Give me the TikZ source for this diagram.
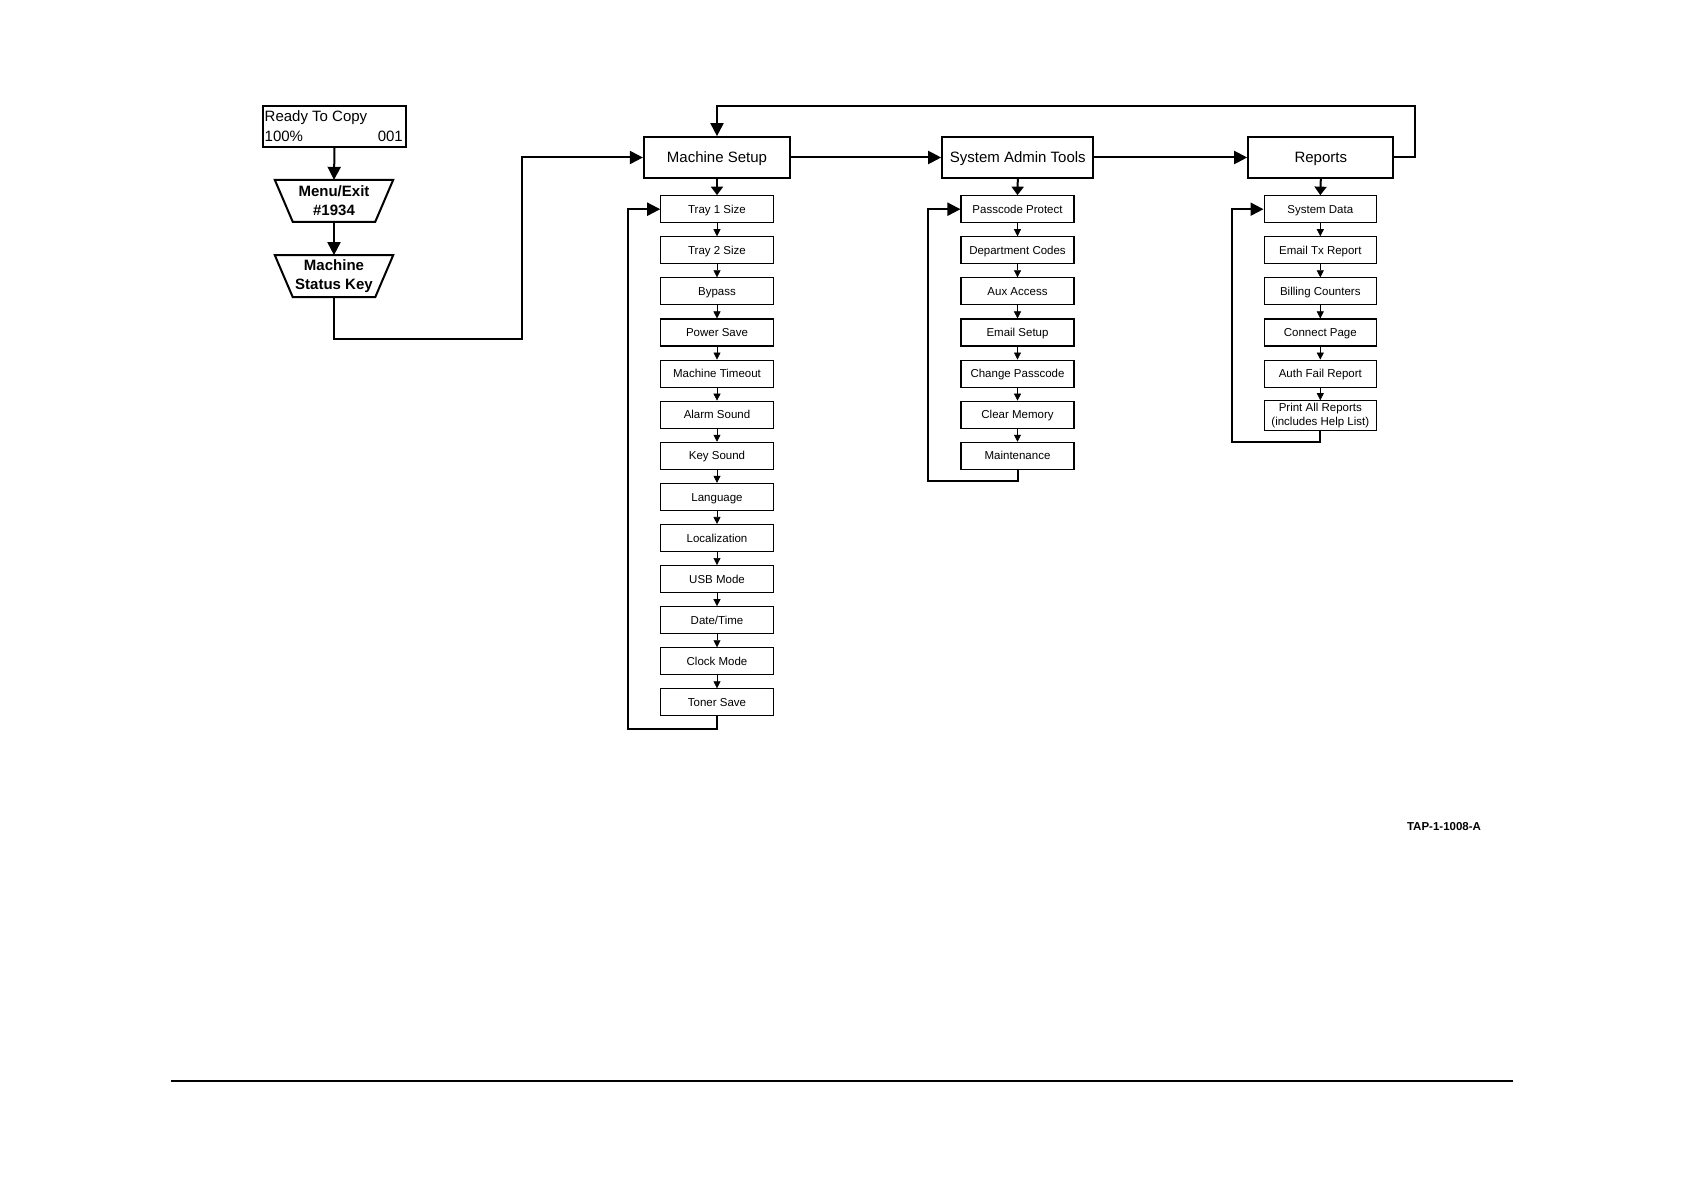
\documentclass[tikz,border=0pt]{standalone}
\usepackage{fontspec}
\setmainfont{Liberation Sans}
\usetikzlibrary{arrows.meta,calc}
\begin{document}
\begin{tikzpicture}[x=1pt,y=-1pt,
  mainbox/.style={draw,line width=2.2pt,minimum height=40.5pt,inner sep=0pt,text height=10.7pt,text depth=0pt,font=\fontsize{15}{18}\selectfont},
  itembase/.style={draw,line width=1.1pt,minimum width=112.5pt,minimum height=27pt,inner sep=0pt,align=center,font=\fontsize{11.5}{13.5}\selectfont},
  item/.style={itembase,text height=8.3pt,text depth=0pt},
  trap/.style={minimum width=82pt,minimum height=41.7pt,inner sep=0pt,align=center,font=\fontsize{15}{19}\selectfont\bfseries},
  trapline/.style={line width=2pt,line join=miter},
  bigarrow/.style={line width=2pt,-{Triangle[length=13pt,width=13pt]}},
  downarrow/.style={line width=2pt,-{Triangle[length=8.5pt,width=12pt]}},
  smallarrow/.style={line width=0.6pt,-{Triangle[length=7pt,width=7pt]}},
  plainline/.style={line width=2pt}]
\useasboundingbox (0,0) rectangle (1684,1190);

% start box
\node[draw,line width=1.8pt,minimum width=143pt,minimum height=41pt,inner sep=0pt] (ready) at (334.5,126.5) {};
\node[anchor=west,inner sep=0pt,font=\fontsize{15}{18}\selectfont] (rtc) at (264.5,118) {Ready To Copy};
\node[anchor=west,inner sep=0pt,font=\fontsize{15}{18}\selectfont] (pct) at (264.5,136.5) {100\%};
\node[anchor=east,inner sep=0pt,font=\fontsize{15}{18}\selectfont] (cnt) at (403,136.5) {001};

\node[trap] (menu) at (334,200.9) {Menu/Exit\\\#1934};
\draw[trapline] ($(menu.north west)+(-18,0)$) -- ($(menu.north east)+(18,0)$) -- (menu.south east) -- (menu.south west) -- cycle;
\node[trap] (status) at (334,276.2) {Machine\\Status Key};
\draw[trapline] ($(status.north west)+(-18,0)$) -- ($(status.north east)+(18,0)$) -- (status.south east) -- (status.south west) -- cycle;

\draw[bigarrow] (ready.south) -- (menu.north);
\draw[bigarrow] (menu.south) -- (status.north);

% main boxes
\node[mainbox,minimum width=146pt] (ms) at (717,157.5) {Machine Setup};
\node[mainbox,minimum width=151pt] (sat) at (1017.8,157.5) {System Admin Tools};
\node[mainbox,minimum width=145pt] (rep) at (1320.8,157.5) {Reports};

\coordinate (c1) at (522,339.3);
\draw[bigarrow] (status.south) |- (c1) |- (ms.west);
\draw[bigarrow] (ms.east) -- (sat.west);
\draw[bigarrow] (sat.east) -- (rep.west);
\coordinate (tr) at (1415,106);
\draw[bigarrow] (rep.east) -| (tr) -| (ms.north);

% Machine Setup items
\foreach \t [count=\i] in {Tray 1 Size,Tray 2 Size,Bypass,Power Save,Machine Timeout,Alarm Sound,Key Sound,Language,Localization,USB Mode,Date/Time,Clock Mode,Toner Save}
  \node[item] (ms\i) at (717,{209.2+41.1*(\i-1)}) {\t};
\foreach \i [evaluate=\i as \j using int(\i+1)] in {1,...,12}
  \draw[smallarrow] (ms\i.south) -- (ms\j.north);
\draw[downarrow] (ms.south) -- (ms1.north);
\coordinate (msl) at (628.3,728.5);
\draw[bigarrow] (ms13.south) |- (msl) |- (ms1.west);

% System Admin Tools items
\foreach \t [count=\i] in {Passcode Protect,Department Codes,Aux Access,Email Setup,Change Passcode,Clear Memory,Maintenance}
  \node[item,minimum width=113pt] (sa\i) at (1017.5,{209.2+41.1*(\i-1)}) {\t};
\foreach \i [evaluate=\i as \j using int(\i+1)] in {1,...,6}
  \draw[smallarrow] (sa\i.south) -- (sa\j.north);
\draw[downarrow] (sat.south) -- (sa1.north);
\coordinate (sal) at (928.3,480.7);
\draw[bigarrow] (sa7.south) |- (sal) |- (sa1.west);

% Reports items
\foreach \t [count=\i] in {System Data,Email Tx Report,Billing Counters,Connect Page,Auth Fail Report}
  \node[item] (rp\i) at (1320.3,{209.2+41.1*(\i-1)}) {\t};
\node[itembase,minimum height=29.3pt,font=\fontsize{11.5}{14}\selectfont] (rp6) at (1320.3,415.4) {Print All Reports\\(includes Help List)};
\foreach \i [evaluate=\i as \j using int(\i+1)] in {1,...,5}
  \draw[smallarrow] (rp\i.south) -- (rp\j.north);
\draw[downarrow] (rep.south) -- (rp1.north);
\coordinate (rpl) at (1231.7,441.7);
\draw[bigarrow] (rp6.south) |- (rpl) |- (rp1.west);

% label and rule
\node[font=\fontsize{11.5}{13}\selectfont\bfseries,inner sep=0pt] (tap) at (1444,826.7) {TAP-1-1008-A};
\coordinate (rl) at (171,1081);
\coordinate (rr) at (1513,1081);
\draw[line width=1.4pt] (rl) -- (rr);
\end{tikzpicture}
\end{document}
